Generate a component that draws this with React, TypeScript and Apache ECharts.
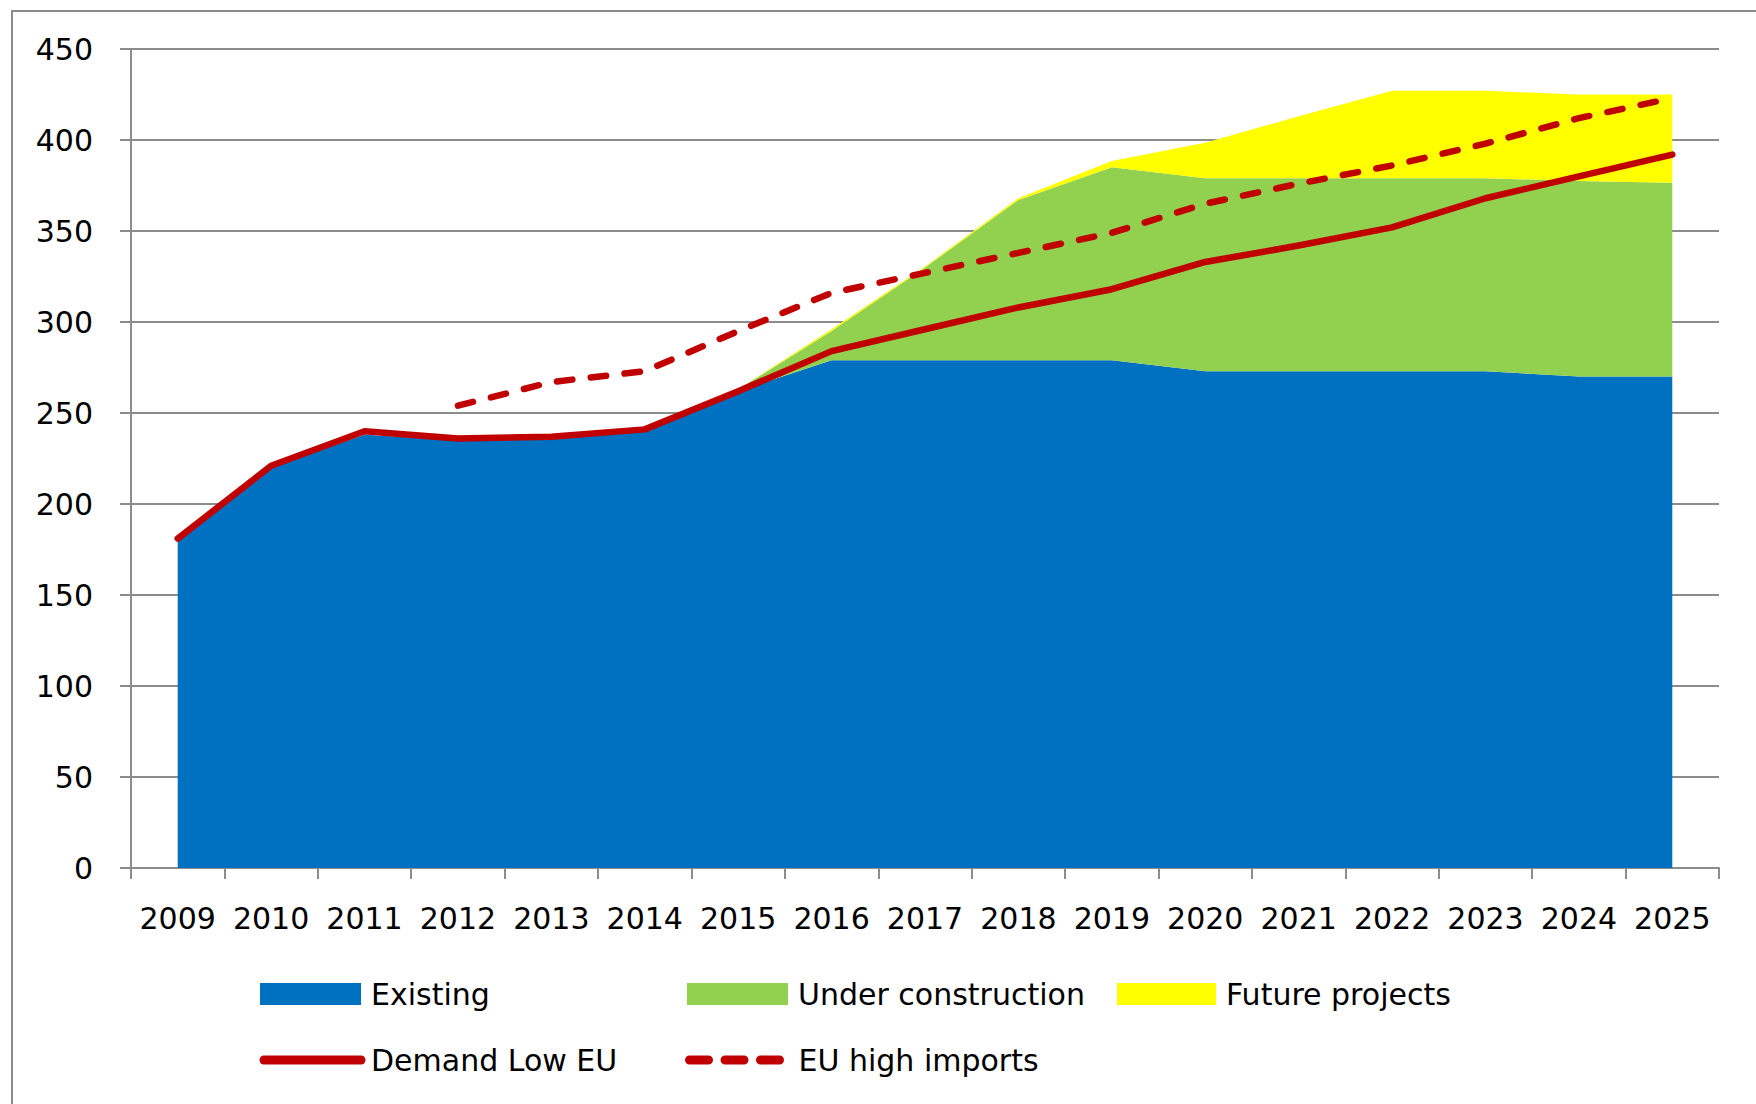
import React, { useEffect, useRef } from "react";
import * as echarts from "echarts";

const years = ["2009", "2010", "2011", "2012", "2013", "2014", "2015", "2016", "2017", "2018", "2019", "2020", "2021", "2022", "2023", "2024", "2025"];
const existing = [180, 220, 238, 235, 237, 240, 262, 279, 279, 279, 279, 273, 273, 273, 273, 270, 270];
const underConstruction = [0, 0, 0, 0, 0, 0, 1, 16, 51, 88, 106, 106, 106, 106, 106, 107.5, 106.5];
const futureProjects = [0, 0, 0, 0, 0, 0, 0, 1, 0.5, 1, 3.5, 19.5, 34, 48, 48, 47.5, 48.5];
const demandLowEU = [181, 221, 240, 236, 237, 241, 262, 284, 296, 308, 318, 333, 342, 352, 368, 380, 392];
const euHighImports = [null, null, null, 254, 267, 273, 295, 316, 327, 338, 349, 365, 376, 386, 398, 412, 423];

const FONT = "DejaVu Sans";
const GREY = "#8c8c8c";
const RED = "#C00000";

export default function App() {
  const ref = useRef<HTMLDivElement>(null);
  useEffect(() => {
    if (!ref.current) return;
    const chart = echarts.init(ref.current, null, { renderer: "svg" });
    const legendText = { fontFamily: FONT, fontSize: 30, color: "#000", padding: [0, 0, 0, 5] };
    const rectLegend = { icon: "rect", itemWidth: 101, itemHeight: 22, textStyle: legendText, selectedMode: false, top: 974 };
    const lineLegend = { itemHeight: 22, selectedMode: false, top: 1040, itemStyle: { opacity: 0 } };
    chart.setOption({
      animation: false,
      backgroundColor: "#fff",
      graphic: [
        {
          type: "rect",
          z: -10,
          shape: { x: 12, y: 11, width: 1800, height: 1200 },
          style: { fill: "none", stroke: GREY, lineWidth: 2 },
        },
      ],
      grid: { left: 131, right: 37, top: 49, bottom: 236 },
      xAxis: {
        type: "category",
        data: years,
        boundaryGap: true,
        axisLine: { show: true, lineStyle: { color: GREY, width: 2 } },
        axisTick: { show: true, length: 11, lineStyle: { color: GREY, width: 2 } },
        axisLabel: { fontFamily: FONT, fontSize: 30, color: "#000", margin: 35, interval: 0, hideOverlap: false },
      },
      yAxis: {
        type: "value",
        min: 0,
        max: 450,
        interval: 50,
        axisLine: { show: true, lineStyle: { color: GREY, width: 2 } },
        axisTick: { show: true, length: 11, lineStyle: { color: GREY, width: 2 } },
        axisLabel: { fontFamily: FONT, fontSize: 30, color: "#000", margin: 38 },
        splitLine: { show: true, lineStyle: { color: GREY, width: 2 } },
      },
      legend: [
        { ...rectLegend, data: ["Existing"], left: 255 },
        { ...rectLegend, data: ["Under construction"], left: 682 },
        { ...rectLegend, data: ["Future projects"], left: 1112, itemWidth: 99 },
        {
          ...lineLegend,
          data: ["Demand Low EU"],
          left: 254.5,
          itemWidth: 97,
          textStyle: { ...legendText, padding: [0, 0, 0, 5] },
          lineStyle: { width: 9, cap: "round" },
        },
        {
          ...lineLegend,
          data: ["EU high imports"],
          left: 680,
          itemWidth: 90,
          textStyle: { ...legendText, padding: [0, 0, 0, 14] },
          lineStyle: { width: 9, cap: "round", type: [19, 16.5] },
        },
      ],
      series: [
        {
          name: "Existing",
          type: "line",
          stack: "cap",
          data: existing,
          symbol: "none",
          color: "#0070C0",
          lineStyle: { width: 0 },
          areaStyle: { color: "#0070C0", opacity: 1 },
          z: 1,
        },
        {
          name: "Under construction",
          type: "line",
          stack: "cap",
          data: underConstruction,
          symbol: "none",
          color: "#92D050",
          lineStyle: { width: 0 },
          areaStyle: { color: "#92D050", opacity: 1 },
          z: 1,
        },
        {
          name: "Future projects",
          type: "line",
          stack: "cap",
          data: futureProjects,
          symbol: "none",
          color: "#FFFF00",
          lineStyle: { width: 0 },
          areaStyle: { color: "#FFFF00", opacity: 1 },
          z: 1,
        },
        {
          name: "Demand Low EU",
          type: "line",
          data: demandLowEU,
          symbol: "none",
          color: RED,
          lineStyle: { width: 6.5, color: RED, cap: "round", join: "round" },
          z: 3,
        },
        {
          name: "EU high imports",
          type: "line",
          data: euHighImports,
          symbol: "none",
          color: RED,
          lineStyle: { width: 6.5, color: RED, type: [15.5, 18.5], cap: "round", join: "round" },
          z: 3,
        },
      ],
    });
    return () => chart.dispose();
  }, []);
  return (
    <div
      ref={ref}
      style={{ position: "absolute", left: 0, top: 0, width: 1756, height: 1104 }}
    />
  );
}
